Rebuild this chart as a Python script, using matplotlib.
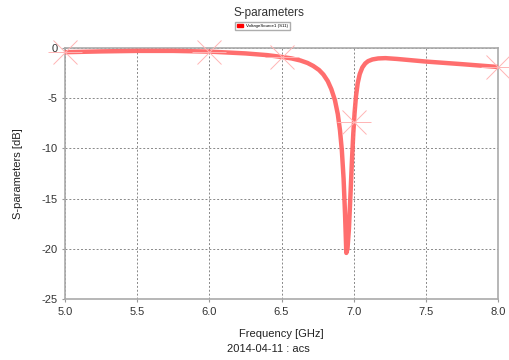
import matplotlib
matplotlib.use("Agg")
from matplotlib import pyplot as plt
from matplotlib.patches import Patch

plt.rcParams['font.family'] = ['Liberation Sans', 'DejaVu Sans']
plt.rcParams['axes.unicode_minus'] = False

# S11 curve
freq = [5.0, 5.25, 5.5, 5.75, 6.0, 6.25, 6.4, 6.5, 6.57, 6.63, 6.68, 6.72,
        6.76, 6.79, 6.82, 6.845, 6.87, 6.89, 6.905, 6.918, 6.93, 6.94,
        6.949, 6.957, 6.967, 6.978, 6.988, 6.997, 7.006, 7.016, 7.028,
        7.042, 7.06, 7.08, 7.1, 7.13, 7.17, 7.22, 7.3, 7.4, 7.5, 7.75, 8.0]
s11 = [-0.43, -0.35, -0.3, -0.3, -0.37, -0.55, -0.72, -0.9, -1.05, -1.25,
       -1.5, -1.8, -2.2, -2.65, -3.3, -4.1, -5.2, -6.6, -8.2, -10.2, -13.0,
       -16.5, -20.4, -20.0, -18.0, -14.5, -11.2, -8.6, -6.5, -4.8, -3.5,
       -2.6, -1.95, -1.55, -1.32, -1.15, -1.05, -1.02, -1.1, -1.23, -1.36,
       -1.62, -1.9]

# sparse markers
mark_f = [5.0, 6.0, 6.5, 7.0, 8.0]
mark_s = [-0.43, -0.37, -0.93, -7.4, -1.9]

xticks = [5.0, 5.5, 6.0, 6.5, 7.0, 7.5, 8.0]
yticks = [0, -5, -10, -15, -20, -25]

red = '#ff6666'
grey = '#999999'

fig = plt.figure(figsize=(5.1, 3.6), dpi=100)
ax = fig.add_axes([0.1275, 0.169, 0.849, 0.698])

ax.plot(freq, s11, color=red, lw=3.2, alpha=0.95, solid_capstyle='round',
        solid_joinstyle='round', zorder=3)
ax.plot(mark_f, mark_s, ls='none', marker='x', ms=17, mew=0.7,
        color='#ffb4b4', zorder=4, clip_on=False)
ax.plot(mark_f, mark_s, ls='none', marker='_', ms=24, mew=0.7,
        color='#ffb4b4', zorder=4, clip_on=False)

ax.set_xlim(5.0, 8.0)
ax.set_ylim(-25, 0)
ax.set_xticks(xticks)
ax.set_xticklabels(['%.1f' % t for t in xticks])
ax.set_yticks(yticks)
ax.tick_params(labelsize=8, colors='#333333', length=2, color=grey)
ax.grid(True, ls=(0, (2, 2)), color='#888888', lw=0.7)
for s in ax.spines.values():
    s.set_color('#aaaaaa')
    s.set_linewidth(1.2)

ax.set_xlabel('Frequency [GHz]', fontsize=8, color='#222222', labelpad=9)
ax.set_ylabel('S-parameters [dB]', fontsize=8, color='#222222', labelpad=13)

fig.text(0.527, 0.965, 'S-parameters', ha='center', va='center',
         fontsize=8.5, color='#333333')
fig.text(0.527, 0.03, '2014-04-11 : acs', ha='center', va='center',
         fontsize=8, color='#222222')

leg = fig.legend(handles=[Patch(color='red', label='VoltageSource1 (S11)')],
                 loc='center', bbox_to_anchor=(0.515, 0.928), fontsize=3.2,
                 frameon=True, fancybox=False, handlelength=1.2,
                 handleheight=0.8, borderpad=0.5, edgecolor='#999999')

fig.savefig('out.png', dpi=100)
